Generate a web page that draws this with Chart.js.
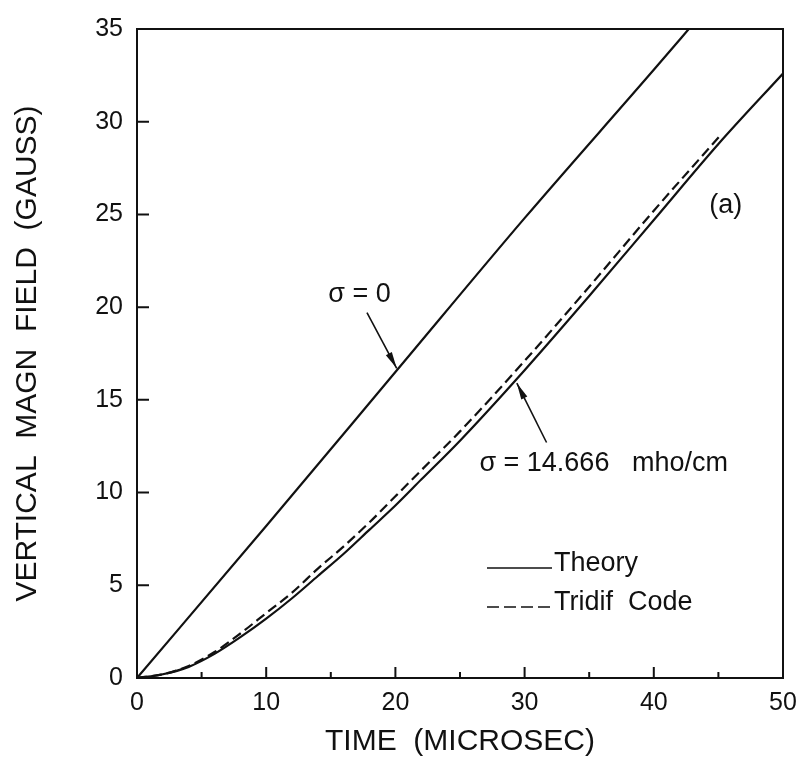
<!DOCTYPE html>
<html lang="en">
<head>
    <meta charset="UTF-8">
    <title>Vertical magn field vs time</title>
    <script src="https://cdn.jsdelivr.net/npm/chart.js"></script>
    <style>
        body { margin: 0; background: #ffffff; }
        #wrap { width: 807px; height: 768px; }
    </style>
</head>
<body>
    <div id="wrap">
        <canvas id="fieldChart" width="807" height="768"></canvas>
    </div>
    <script>
        // Данные
        const xTicks = [0, 10, 20, 30, 40, 50];
        const yTicks = [0, 5, 10, 15, 20, 25, 30, 35];

        const tVacuum = [0, 10, 20, 30, 40, 43.2];
        const bVacuum = [0, 8.2, 16.5, 24.8, 32.8, 35.4];

        const tTheory = [0, 2, 4, 6, 8, 10, 12, 14, 16, 18, 20, 22, 25, 30, 35, 40, 45, 50];
        const bTheory = [0, 0.2, 0.6, 1.3, 2.2, 3.2, 4.3, 5.5, 6.7, 8.0, 9.3, 10.7, 12.8, 16.6, 20.6, 24.7, 28.8, 32.6];

        const tCode = [0, 2, 4, 6, 8, 10, 12, 14, 16, 18, 20, 22, 25, 30, 35, 40, 45.2];
        const bCode = [0, 0.2, 0.65, 1.4, 2.4, 3.5, 4.6, 5.9, 7.1, 8.4, 9.8, 11.2, 13.3, 17.1, 21.1, 25.2, 29.3];

        const FONT = '"Liberation Sans", "DejaVu Sans", sans-serif';

        function toPoints(xs, ys) {
            return xs.map((x, i) => ({ x: x, y: ys[i] }));
        }

        function lineSet(label, xs, ys, dash) {
            return {
                label: label,
                data: toPoints(xs, ys),
                borderColor: '#111111',
                borderWidth: 2.2,
                borderDash: dash,
                pointRadius: 0,
                cubicInterpolationMode: 'monotone',
                fill: false
            };
        }

        // стрелка с заливкой на конце
        function arrow(ctx, x1, y1, x2, y2) {
            const a = Math.atan2(y2 - y1, x2 - x1);
            ctx.beginPath();
            ctx.moveTo(x1, y1);
            ctx.lineTo(x2, y2);
            ctx.stroke();
            ctx.beginPath();
            ctx.moveTo(x2, y2);
            ctx.lineTo(x2 - 17 * Math.cos(a - 0.2), y2 - 17 * Math.sin(a - 0.2));
            ctx.lineTo(x2 - 17 * Math.cos(a + 0.2), y2 - 17 * Math.sin(a + 0.2));
            ctx.closePath();
            ctx.fill();
        }

        // рамка, внутренние засечки, подписи и легенда
        const decorPlugin = {
            id: 'decor',
            afterDraw(chart) {
                const ctx = chart.ctx;
                const area = chart.chartArea;
                const xs = chart.scales.x;
                const ys = chart.scales.y;
                ctx.save();
                ctx.strokeStyle = '#111111';
                ctx.fillStyle = '#111111';
                ctx.lineWidth = 2;
                ctx.strokeRect(area.left, area.top, area.right - area.left, area.bottom - area.top);

                ctx.beginPath();
                for (let v = 5; v < 50; v += 5) {
                    const px = xs.getPixelForValue(v);
                    const len = v % 10 === 0 ? 11 : 6;
                    ctx.moveTo(px, area.bottom);
                    ctx.lineTo(px, area.bottom - len);
                }
                for (let v = 5; v < 35; v += 5) {
                    const py = ys.getPixelForValue(v);
                    ctx.moveTo(area.left, py);
                    ctx.lineTo(area.left + 12, py);
                }
                ctx.stroke();

                const X = v => xs.getPixelForValue(v);
                const Y = v => ys.getPixelForValue(v);

                ctx.lineWidth = 1.6;
                arrow(ctx, X(17.8), Y(19.7), X(20.1), Y(16.7));
                arrow(ctx, X(31.7), Y(12.7), X(29.4), Y(15.9));

                ctx.textBaseline = 'middle';
                ctx.textAlign = 'left';
                ctx.font = '27px ' + FONT;
                ctx.fillText('σ = 0', X(14.8), Y(20.7));
                ctx.fillText('σ = 14.666   mho/cm', X(26.5), Y(11.55));
                ctx.fillText('(a)', X(44.3), Y(25.5));

                // легенда
                ctx.lineWidth = 1.6;
                ctx.beginPath();
                ctx.moveTo(487, 568);
                ctx.lineTo(552, 568);
                ctx.stroke();
                ctx.setLineDash([12, 5]);
                ctx.beginPath();
                ctx.moveTo(487, 607);
                ctx.lineTo(552, 607);
                ctx.stroke();
                ctx.setLineDash([]);
                ctx.textBaseline = 'alphabetic';
                ctx.fillText('Theory', 554, 571);
                ctx.fillText('Tridif  Code', 554, 610);
                ctx.restore();
            }
        };

        const data = {
            datasets: [
                lineSet('σ = 0', tVacuum, bVacuum, []),
                lineSet('Theory', tTheory, bTheory, []),
                lineSet('Tridif Code', tCode, bCode, [10, 5])
            ]
        };

        const options = {
            responsive: false,
            animation: false,
            layout: { padding: { left: 0, top: 18, right: 24, bottom: 0 } },
            plugins: {
                legend: { display: false },
                tooltip: { enabled: false }
            },
            scales: {
                x: {
                    type: 'linear',
                    min: 0,
                    max: 50,
                    afterFit: s => { s.height = 90; },
                    afterBuildTicks: s => { s.ticks = xTicks.map(v => ({ value: v })); },
                    grid: { drawOnChartArea: false, drawTicks: false },
                    border: { display: false },
                    ticks: { padding: 10, color: '#111111', font: { family: FONT, size: 25 } },
                    title: {
                        display: true,
                        text: 'TIME  (MICROSEC)',
                        color: '#111111',
                        font: { family: FONT, size: 30 },
                        padding: { top: 8, bottom: 8 }
                    }
                },
                y: {
                    type: 'linear',
                    min: 0,
                    max: 35,
                    afterFit: s => { s.width = 137; },
                    afterBuildTicks: s => { s.ticks = yTicks.map(v => ({ value: v })); },
                    grid: { drawOnChartArea: false, drawTicks: false },
                    border: { display: false },
                    ticks: { padding: 14, color: '#111111', font: { family: FONT, size: 25 } },
                    title: {
                        display: true,
                        text: 'VERTICAL  MAGN  FIELD  (GAUSS)',
                        color: '#111111',
                        font: { family: FONT, size: 30 },
                        padding: { top: 10, bottom: 10 }
                    }
                }
            }
        };

        new Chart(document.getElementById('fieldChart').getContext('2d'), {
            type: 'line',
            data: data,
            options: options,
            plugins: [decorPlugin]
        });
    </script>
</body>
</html>
